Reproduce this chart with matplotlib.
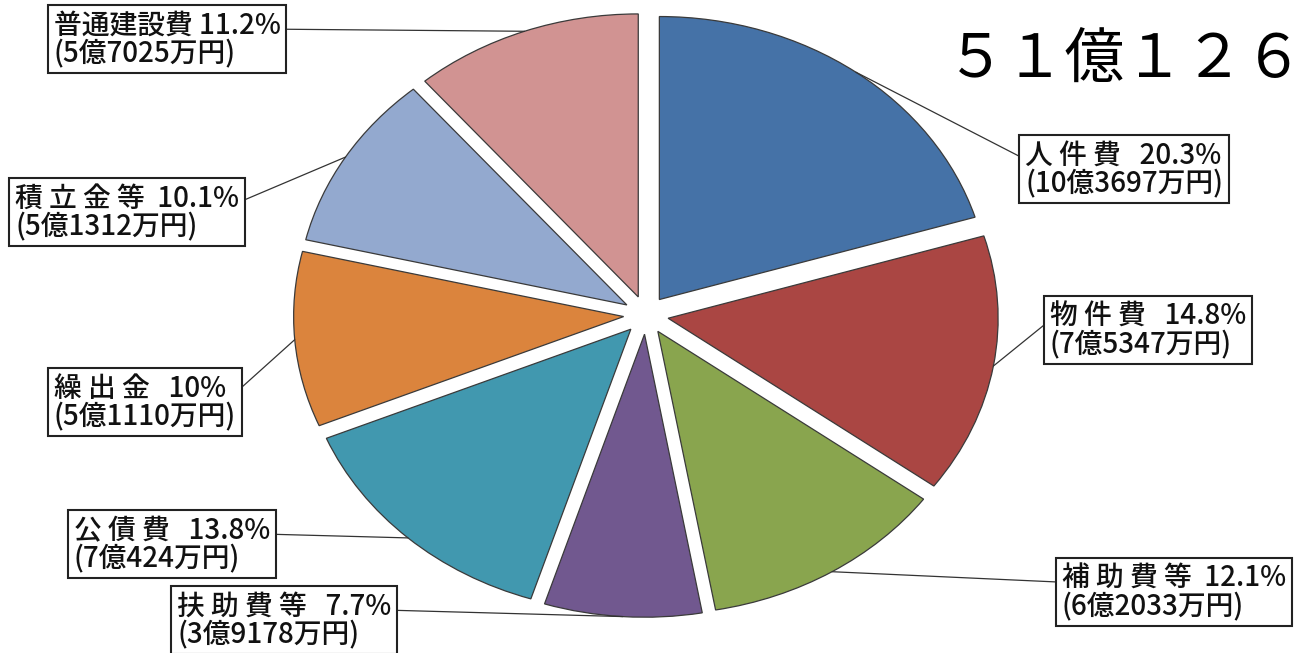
import numpy as np
import matplotlib.pyplot as plt

plt.rcParams['font.family'] = ['Noto Sans CJK JP', 'DejaVu Sans']

categories = ['人件費', '物件費', '補助費等', '扶助費等', '公債費', '繰出金', '積立金等', '普通建設費']
shares = [20.3, 14.8, 12.1, 7.7, 13.8, 10.0, 10.1, 11.2]
share_labels = ['20.3%', '14.8%', '12.1%', '7.7%', '13.8%', '10%', '10.1%', '11.2%']
amounts = ['10億3697万円', '7億5347万円', '6億2033万円', '3億9178万円',
           '7億424万円', '5億1110万円', '5億1312万円', '5億7025万円']
total_text = '５１億１２６'

colors = ['#4572A7', '#AA4643', '#89A54E', '#71588F', '#4198AF', '#DB843D', '#93A9CF', '#D19392']

# label boxes: top-left corner in pixels (from top-left of image)
box_pos = [(1018, 137), (1043, 298), (1055, 560), (170, 588),
           (67, 512), (47, 370), (8, 180), (47, 7)]

W, H = 1315, 653
cx, cy = 646, 315          # pie centre in pixels
rx, ry = 330, 283          # pie radii in pixels (picture is stretched)

fig = plt.figure(figsize=(W / 100, H / 100), dpi=100)
ax = fig.add_axes([0, 0, 1, 1])

wedges, _ = ax.pie(shares, colors=colors, startangle=90, counterclock=False,
                   explode=[0.068] * len(shares),
                   wedgeprops=dict(edgecolor='#3a3a3a', linewidth=0.9))
ax.set_aspect('auto')
ax.set_xlim(-cx / rx, (W - cx) / rx)
ax.set_ylim(-(H - cy) / ry, cy / ry)
ax.axis('off')


def px_to_data(px, py):
    return (px - cx) / rx, (cy - py) / ry


for i, w in enumerate(wedges):
    mid = np.deg2rad((w.theta1 + w.theta2) / 2)
    ex = w.center[0] + w.r * np.cos(mid)
    ey = w.center[1] + w.r * np.sin(mid)
    name = categories[i]
    if name != '普通建設費':
        name = ' '.join(name)
        sep = '   ' if len(share_labels[i]) < 5 or len(categories[i]) == 3 else '  '
    else:
        sep = ' '
    txt = f'{name}{sep}{share_labels[i]}\n({amounts[i]})'
    bx, by = box_pos[i]
    tx, ty = px_to_data(bx + 7, by + 4)
    right_side = bx > cx
    ax.annotate(txt, xy=(ex, ey), xytext=(tx, ty), textcoords='data',
                ha='left', va='top', fontsize=20, linespacing=0.95,
                fontweight='medium', color='#111111',
                bbox=dict(boxstyle='square,pad=0.2', fc='white', ec='#222222', lw=1.5),
                arrowprops=dict(arrowstyle='-', color='#333333', lw=0.9,
                                shrinkA=0, shrinkB=0,
                                relpos=(0 if right_side else 1, 0.68)))

fig.text(946 / W, 1 - 78 / H, total_text, fontsize=43, ha='left', va='baseline', color='black')

fig.savefig('out.png', dpi=100, facecolor='white')
